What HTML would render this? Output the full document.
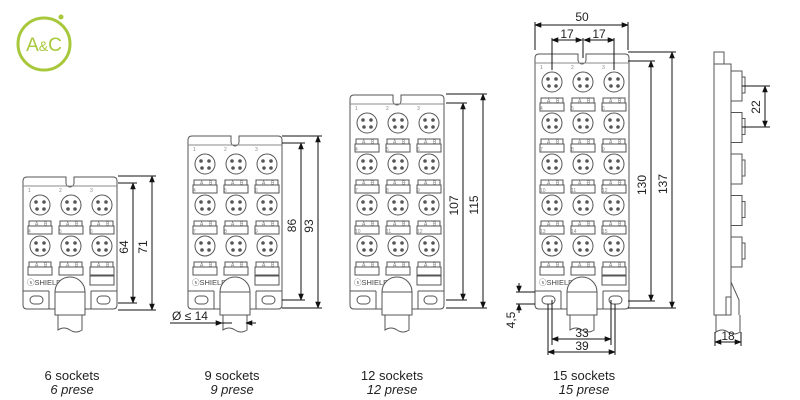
<!DOCTYPE html>
<html><head><meta charset="utf-8"><style>
html,body{margin:0;padding:0;background:#fff;}
svg{display:block;font-family:"Liberation Sans",sans-serif;}
</style></head><body>
<svg id="s" width="800" height="400" viewBox="0 0 800 400" xmlns="http://www.w3.org/2000/svg">
<defs>
<marker id="a" viewBox="0 0 10 10" refX="9" refY="5" markerWidth="7" markerHeight="7" orient="auto-start-reverse"><path d="M0,1 L10,5 L0,9 z" fill="#111"/></marker>
</defs>
<circle cx="44" cy="44" r="26" fill="none" stroke="#a8c83c" stroke-width="3"/>
<circle cx="61" cy="17" r="2.5" fill="#a8c83c"/>
<text x="44" y="51" font-size="19" fill="#a8c83c" text-anchor="middle">A<tspan font-size="14">&amp;</tspan>C</text>
<g id="g" fill="none" stroke="#555" stroke-width="1"></g>
<g font-size="13" fill="#222" text-anchor="middle">
<text x="72" y="380">6 sockets</text><text x="72" y="394" font-style="italic">6 prese</text>
<text x="232" y="380">9 sockets</text><text x="232" y="394" font-style="italic">9 prese</text>
<text x="392" y="380">12 sockets</text><text x="392" y="394" font-style="italic">12 prese</text>
<text x="584" y="380">15 sockets</text><text x="584" y="394" font-style="italic">15 prese</text>
</g>
</svg>
<script>
var o='';
function L(x1,y1,x2,y2,c,w){o+='<line x1="'+x1+'" y1="'+y1+'" x2="'+x2+'" y2="'+y2+'" stroke="'+(c||'#555')+'" stroke-width="'+(w||1)+'"/>';}
function D(x1,y1,x2,y2){o+='<line x1="'+x1+'" y1="'+y1+'" x2="'+x2+'" y2="'+y2+'" stroke="#111" marker-start="url(#a)" marker-end="url(#a)"/>';}
function T(x,y,t,r){o+='<text x="'+x+'" y="'+y+'" font-size="12" fill="#222" stroke="none" text-anchor="middle"'+(r?' transform="rotate(-90 '+x+' '+y+')"':'')+'>'+t+'</text>';}
function mod(x,n){var w=94,bot=309,top=246-41*(n-1)-28;
o+='<path d="M'+(x+4)+','+top+' H'+(x+w/2-4)+' v6 a4,4 0 0 0 8,0 v-6 H'+(x+w-4)+' q4,0 4,4 V'+(bot-4)+' q0,4 -4,4 H'+(x+4)+' q-4,0 -4,-4 V'+(top+4)+' q0,-4 4,-4z" fill="#fff"/>';
L(x,top+9,x+w,top+9,'#888');
var cx=[x+17,x+48,x+79];
for(var r=0;r<n;r++){var cy=246-41*(n-1-r);
 for(var c=0;c<3;c++){
  o+='<circle cx="'+cx[c]+'" cy="'+cy+'" r="10"/>';
  [[-4,-3],[4,-3],[-3,4],[4,4]].forEach(function(p){o+='<circle cx="'+(cx[c]+p[0])+'" cy="'+(cy+p[1])+'" r="1.3" fill="#555"/>';});
  o+='<text x="'+(cx[c]-12)+'" y="'+(cy-13)+'" font-size="5" fill="#888" stroke="none">'+(r*3+c+1)+'</text>';
  var by=cy+16;
  if(!(r==n-1&&c==2)||true){o+='<rect x="'+(cx[c]-11)+'" y="'+by+'" width="22" height="5"/><rect x="'+(cx[c]-12)+'" y="'+(by+5)+'" width="24" height="8"/>';
  o+='<text x="'+(cx[c]-5)+'" y="'+(by+4.5)+'" font-size="5" fill="#777" stroke="none">A</text><text x="'+(cx[c]+4)+'" y="'+(by+4.5)+'" font-size="5" fill="#777" stroke="none">B</text>';}
 }}
o+='<rect x="'+(cx[2]-12)+'" y="276" width="24" height="9"/>';
o+='<text x="'+(x+4)+'" y="285" font-size="7.5" fill="#444" stroke="none">ⓢSHIELD</text>';
L(x,291,x+26,291);L(x+w-26,291,x+w,291);L(x+26,291,x+26,bot);L(x+w-26,291,x+w-26,bot);
o+='<rect x="'+(x+7)+'" y="296" width="13" height="8" rx="4"/><rect x="'+(x+w-20)+'" y="296" width="13" height="8" rx="4"/>';
var hx=x+w/2;
o+='<path d="M'+(hx-15)+',315 V292 a15,15 0 0 1 30,0 V315 z" fill="#fff"/>';L(hx-15,292,hx+15,292);
o+='<path d="M'+(hx-12)+',315 V330 q6,-4 12,0 q6,4 12,0 V315" />';
}
mod(23,2);mod(188,3);mod(350,4);mod(535,5);
// dims
function vd(x,y1,y2,t,bx){L(bx,y1,x+4,y1,'#111');L(bx,y2,x+4,y2,'#111');D(x,y1,x,y2);T(x-5,(y1+y2)/2+4,t,1);}
vd(133,183,303,'64',118);vd(152,176,310,'71',118);
vd(301,143,300,'86',282);vd(318,136,308,'93',282);
vd(463,103,300,'107',446);vd(483,94,308,'115',446);
vd(651,61,301,'130',628);vd(672,52,308,'137',628);
L(535,22,535,50,'#111');L(628,22,628,50,'#111');D(535,25,628,25);T(582,21,'50');
L(552,38,552,70,'#111');L(583,38,583,58,'#111');L(614,38,614,70,'#111');
D(552,40,582,40);D(584,40,614,40);T(567,38,'17');T(599,38,'17');
L(548,304,548,355,'#111');L(615,304,615,355,'#111');L(552,300,552,345,'#111');L(611,300,611,345,'#111');
D(552,339,611,339);T(582,337,'33');D(548,352,615,352);T(582,350,'39');
L(516,292,535,292,'#111');L(516,304,535,304,'#111');
o+='<line x1="519" y1="283" x2="519" y2="292" stroke="#111" marker-end="url(#a)"/><line x1="519" y1="313" x2="519" y2="304" stroke="#111" marker-end="url(#a)"/>';
T(515,320,'4,5',1);
// diameter
L(170,323,232,323,'#111');o+='<line x1="210" y1="323" x2="222" y2="323" stroke="#111" marker-end="url(#a)"/><line x1="256" y1="323" x2="246" y2="323" stroke="#111" marker-end="url(#a)"/>';
o+='<text x="172" y="320" font-size="12" fill="#222" stroke="none">Ø ≤ 14</text>';
// side view
o+='<rect x="714" y="52" width="10" height="12" fill="#fff"/><rect x="714" y="64" width="17" height="251" fill="#fff"/>';
for(var i=0;i<5;i++){var y=71+41.5*i;o+='<rect x="731" y="'+y+'" width="11" height="30" fill="#fff"/><rect x="742" y="'+(y+6)+'" width="3" height="16"/>';}
o+='<path d="M731,282 L739,300 V315"/><rect x="726" y="297" width="5" height="18"/>';
o+='<path d="M716,315 V332 q6,-4 12,0 q6,4 12,0 V315"/>';
L(742,86,770,86,'#111');L(742,127,770,127,'#111');D(765,86,765,127);T(760,107,'22',1);
L(715,332,715,346,'#111');L(741,332,741,346,'#111');D(715,342,741,342);T(728,340,'18');
document.getElementById('g').innerHTML=o;
</script>
</body></html>
